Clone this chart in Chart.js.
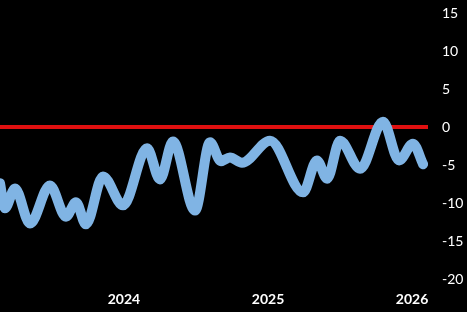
<!DOCTYPE html>
<html>
<head>
<meta charset="utf-8">
<script src="https://cdn.jsdelivr.net/npm/chart.js@4/dist/chart.umd.min.js"></script>
<style>
  html, body { margin: 0; padding: 0; background: #000; }
  #wrap { width: 467px; height: 312px; }
</style>
</head>
<body>
<div id="wrap"><canvas id="chartCanvas" width="467" height="312"></canvas></div>
<script>
// month index: Jan 2023 = 0, Jan 2024 = 12 ...
const monthPos = [1.67, 2.08, 2.92, 4.17, 5.83, 7.17, 8.0, 8.83, 10.25, 11.92,
  13.92, 15.0, 16.08, 17.92, 19.17, 20.08, 20.83, 21.83, 24.17, 26.92,
  28.08, 28.92, 30.0, 31.67, 33.58, 34.92, 36.08, 36.92];
const seriesValues = [-7.4, -10.7, -8.1, -12.7, -7.7, -11.8, -9.9, -12.8, -6.5, -10.3,
  -2.8, -6.9, -1.9, -11.0, -2.0, -4.5, -4.0, -4.7, -1.8, -8.6,
  -4.4, -6.8, -1.8, -5.5, 0.7, -4.4, -2.2, -4.9];
const zeroLineMonths = [1.67, 37.33];
const zeroLineValues = [0, 0];
const yearTicks = [2024, 2025, 2026];
const yTicks = [15, 10, 5, 0, -5, -10, -15, -20];

const toPoints = (xs, ys) => xs.map((x, i) => ({x: x, y: ys[i]}));

const ctx = document.getElementById('chartCanvas').getContext('2d');
const options = {
  responsive: false,
  animation: false,
  layout: { padding: { top: 13, right: 2, left: 0, bottom: 4 } },
  scales: {
    x: {
      type: 'linear',
      min: zeroLineMonths[0],
      max: zeroLineMonths[1],
      grid: { display: false, drawTicks: false },
      border: { display: false },
      afterBuildTicks: (axis) => {
        axis.ticks = yearTicks.map(yr => ({ value: (yr - 2023) * 12 }));
      },
      afterFit: (axis) => {
        axis.paddingLeft = 0;
        axis.paddingRight = 0;
        axis.height = 29;
      },
      ticks: {
        color: '#fff',
        padding: 12,
        maxRotation: 0,
        font: { family: 'Lato', size: 14, weight: 'bold' },
        callback: (v) => String(2023 + v / 12)
      }
    },
    y: {
      position: 'right',
      min: -20,
      max: 15,
      grid: { display: false, drawTicks: false },
      border: { display: false },
      afterBuildTicks: (axis) => {
        axis.ticks = yTicks.map(v => ({ value: v }));
      },
      afterFit: (axis) => {
        axis.paddingTop = 0;
        axis.paddingBottom = 0;
        axis.width = 37;
      },
      ticks: {
        color: '#fff',
        padding: 14,
        font: { family: 'Lato', size: 14 }
      }
    }
  },
  plugins: {
    legend: { display: false },
    tooltip: { enabled: false }
  }
};

let chart = new Chart(ctx, {
  type: 'line',
  data: {
    datasets: [
      {
        data: toPoints(monthPos, seriesValues),
        borderColor: '#80b4e4',
        borderWidth: 10,
        borderCapStyle: 'round',
        borderJoinStyle: 'round',
        cubicInterpolationMode: 'monotone',
        pointRadius: 0,
        order: 0
      },
      {
        data: toPoints(zeroLineMonths, zeroLineValues),
        borderColor: '#e01010',
        borderWidth: 4,
        pointRadius: 0,
        order: 1
      }
    ]
  },
  options: options
});
</script>
</body>
</html>
